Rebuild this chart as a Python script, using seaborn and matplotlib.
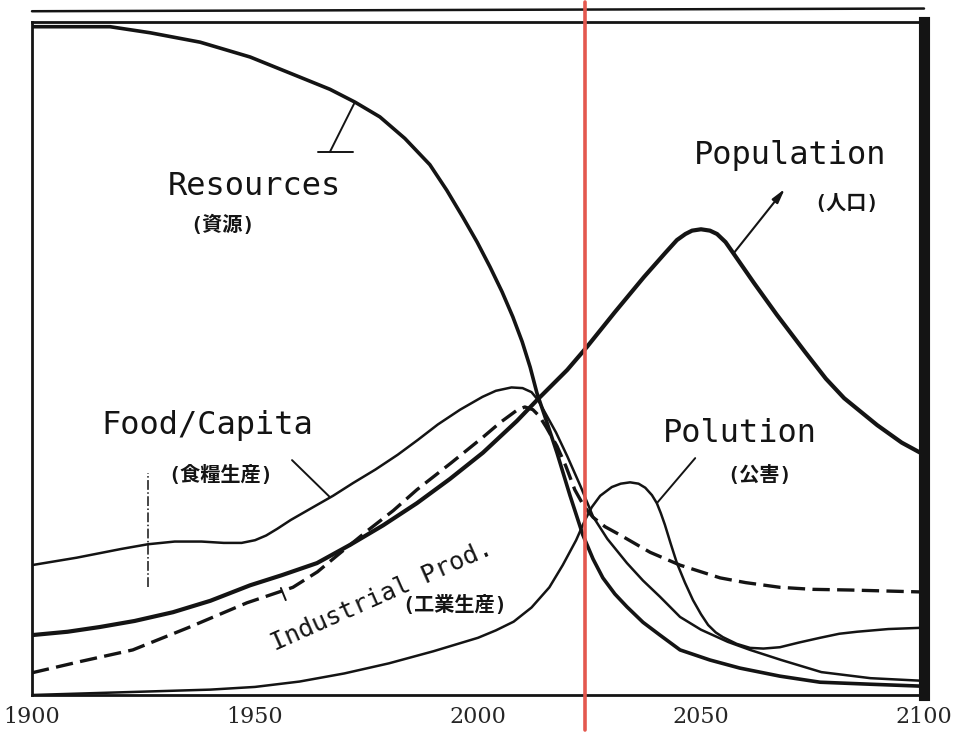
import numpy as np
import pandas as pd
import seaborn as sns
import matplotlib
matplotlib.use("Agg")
import matplotlib.pyplot as plt

sns.set_theme(style="white")
plt.rcParams['font.family'] = ['DejaVu Sans Mono', 'DejaVu Sans']

# values (0 = bottom, 1 = top of the frame)
res_year = [1900, 1917.5, 1926.5, 1937.7, 1948.9, 1960.1, 1966.8, 1972.4, 1978.0, 1983.6,
            1989.2, 1993.0, 1996.6, 1999.8, 2002.7, 2005.4, 2007.8, 2009.9, 2011.7, 2013.2,
            2015.5, 2017.7, 2020.6, 2023.5, 2025.8, 2028.0, 2030.7, 2033.4, 2037.0, 2040.8,
            2045.3, 2052.0, 2058.7, 2067.7, 2076.7, 2088.0, 2100]
res_val = [0.993, 0.993, 0.984, 0.970, 0.948, 0.918, 0.900, 0.881, 0.859, 0.827,
           0.788, 0.750, 0.710, 0.673, 0.636, 0.599, 0.562, 0.525, 0.487, 0.449,
           0.404, 0.360, 0.297, 0.238, 0.202, 0.174, 0.150, 0.131, 0.108, 0.089,
           0.067, 0.052, 0.040, 0.028, 0.019, 0.016, 0.013]

pop_year = [1900, 1908, 1915.2, 1923, 1931.6, 1940, 1948.9, 1956, 1963.9, 1971.3,
            1978.7, 1986.3, 1993.7, 2001.1, 2008.7, 2013.2, 2020.0, 2024.4, 2030.7, 2037.2,
            2042, 2044.6, 2046.5, 2048, 2050, 2052, 2053.6, 2055.5, 2057.4, 2061.9,
            2067.0, 2073.3, 2078, 2082.1, 2089.5, 2095, 2100]
pop_val = [0.089, 0.094, 0.101, 0.110, 0.123, 0.140, 0.163, 0.178, 0.196, 0.223,
           0.252, 0.285, 0.321, 0.360, 0.407, 0.438, 0.483, 0.517, 0.569, 0.621,
           0.657, 0.676, 0.685, 0.690, 0.692, 0.690, 0.685, 0.673, 0.655, 0.612,
           0.565, 0.510, 0.470, 0.441, 0.401, 0.375, 0.357]

food_year = [1900, 1910, 1920, 1926, 1932, 1938, 1943, 1947, 1950, 1952.5, 1955, 1958,
             1963, 1967.5, 1972, 1977, 1982, 1986.5, 1991, 1996, 2001, 2004, 2007.5, 2010,
             2012, 2013.5, 2015, 2017.5, 2020, 2023, 2025.8, 2029, 2033.4, 2037,
             2040.8, 2045.3, 2050, 2056, 2061, 2068, 2077, 2088, 2100]
food_val = [0.193, 0.204, 0.217, 0.224, 0.228, 0.228, 0.226, 0.226, 0.230, 0.237, 0.247, 0.260,
            0.279, 0.296, 0.315, 0.335, 0.357, 0.379, 0.402, 0.424, 0.443, 0.452, 0.457, 0.456,
            0.450, 0.438, 0.420, 0.390, 0.355, 0.310, 0.265, 0.232, 0.196, 0.170,
            0.146, 0.116, 0.097, 0.079, 0.067, 0.052, 0.034, 0.025, 0.021]

ind_year = [1900, 1911, 1922.6, 1935, 1948.2, 1958.5, 1964, 1969.1, 1975, 1981,
            1986.3, 1994, 2001.1, 2005, 2008.7, 2010.5, 2012.3, 2013.8, 2015.3, 2017.7,
            2019.7, 2021.7, 2023.8, 2025.8, 2028.5, 2031.8, 2038.6, 2045.3, 2054.3, 2060,
            2067.7, 2075, 2083.4, 2100]
ind_val = [0.033, 0.050, 0.067, 0.100, 0.137, 0.160, 0.183, 0.211, 0.243, 0.274,
           0.305, 0.345, 0.383, 0.405, 0.423, 0.428, 0.424, 0.414, 0.398, 0.370,
           0.340, 0.305, 0.280, 0.264, 0.250, 0.238, 0.212, 0.193, 0.174, 0.167,
           0.160, 0.157, 0.156, 0.153]

pol_year = [1900, 1915, 1930, 1940, 1950, 1960, 1970, 1980, 1990, 2000, 2004, 2008, 2012,
            2016, 2019, 2022, 2024, 2025.5, 2027.4, 2030, 2032, 2034.1, 2036, 2037.5,
            2039, 2040.1, 2041, 2041.9, 2043.2, 2044.6, 2046.4, 2048.2, 2050, 2051.6,
            2053.3, 2054.9, 2058, 2061, 2064, 2067.7, 2072, 2076.7, 2081, 2085, 2092, 2100]
pol_val = [0.0, 0.003, 0.006, 0.008, 0.012, 0.020, 0.032, 0.047, 0.065, 0.085, 0.096, 0.109, 0.130,
           0.160, 0.193, 0.230, 0.260, 0.279, 0.296, 0.309, 0.314, 0.316, 0.314, 0.308,
           0.297, 0.285, 0.270, 0.253, 0.225, 0.196, 0.167, 0.141, 0.120, 0.104,
           0.093, 0.086, 0.076, 0.070, 0.069, 0.071, 0.078, 0.085, 0.091, 0.094, 0.098, 0.100]

tick_years = [1900, 1950, 2000, 2050, 2100]
now_year = 2024

ink = '#141414'
fig = plt.figure(figsize=(9.54, 7.38), dpi=100)
ax = fig.add_axes([32 / 954, 43 / 738, 892 / 954, 673 / 738])

sns.lineplot(x=res_year, y=res_val, ax=ax, color=ink, lw=2.6)
sns.lineplot(x=pop_year, y=pop_val, ax=ax, color=ink, lw=3.0)
sns.lineplot(x=food_year, y=food_val, ax=ax, color=ink, lw=1.8)
sns.lineplot(x=ind_year, y=ind_val, ax=ax, color=ink, lw=2.4, ls=(0, (5.2, 2.2)))
sns.lineplot(x=pol_year, y=pol_val, ax=ax, color=ink, lw=1.8)

ax.set_xlim(1900, 2100)
ax.set_ylim(0, 1)
ax.set_xticks(tick_years)
ax.set_xticklabels([str(t) for t in tick_years], family='DejaVu Serif', fontsize=16)
ax.set_yticks([])
ax.tick_params(axis='x', direction='in', length=11, width=2, color=ink, pad=8)
ax.set_xlabel('')
ax.set_ylabel('')

for side in ['left', 'bottom', 'top']:
    ax.spines[side].set_color(ink)
    ax.spines[side].set_linewidth(2)
ax.spines['right'].set_color(ink)
ax.spines['right'].set_linewidth(8)
# second line of the top frame
ax.plot([1900, 2100], [1.016, 1.02], color=ink, lw=1.8, clip_on=False)

# present-day marker
ax.axvline(now_year, ymin=-0.052, ymax=1.03, color='#e4584f', lw=2.6, clip_on=False, zorder=5)

# labels
big = dict(fontsize=23, color=ink, ha='center', va='center')
jp = dict(family=['DejaVu Sans Mono', 'Noto Sans CJK JP'], fontsize=14.5, fontweight='bold',
          color=ink, ha='center', va='center')

ax.text(1949.8, 0.755, 'Resources', **big)
ax.text(1942.8, 0.698, '(資源)', **jp)
ax.plot([1972.4, 1966.8], [0.881, 0.807], color=ink, lw=1.4)
ax.plot([1964.1, 1972.0], [0.807, 0.807], color=ink, lw=1.4)

ax.text(2070.0, 0.802, 'Population', **big)
ax.text(2082.7, 0.731, '(人口)', **jp)
ax.annotate('', xy=(2068.8, 0.752), xytext=(2057.4, 0.657),
            arrowprops=dict(arrowstyle='-|>,head_length=0.7,head_width=0.18',
                            color=ink, lw=1.5, shrinkA=0, shrinkB=0))

ax.text(1939.2, 0.401, 'Food/Capita', **big)
ax.text(1942.2, 0.327, '(食糧生産)', **jp)
ax.plot([1966.8, 1958.3], [0.294, 0.349], color=ink, lw=1.4)

ax.text(1978.4, 0.148, 'Industrial Prod.', fontsize=18, color=ink, ha='center',
        va='center', rotation=24)
ax.text(1994.8, 0.133, '(工業生産)', **jp)
ax.plot([1956.9, 1955.8], [0.141, 0.159], color=ink, lw=1.4)

ax.text(2058.7, 0.388, 'Polution', **big)
ax.text(2063.2, 0.327, '(公害)', **jp)
ax.plot([2040.1, 2048.7], [0.285, 0.352], color=ink, lw=1.4)

# faint guide mark from the scan
ax.plot([1926, 1926], [0.16, 0.33], color=ink, lw=1.1, ls='-.')

fig.savefig('out.png', dpi=100, facecolor='white')
